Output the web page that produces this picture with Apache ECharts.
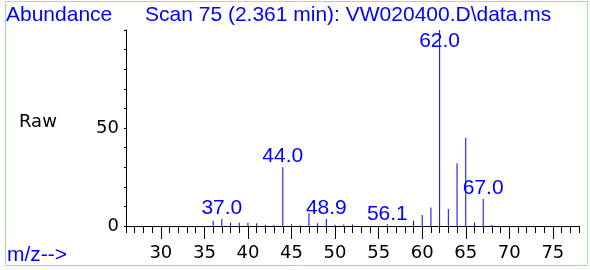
<!DOCTYPE html>
<html>
<head>
<meta charset="utf-8">
<script src="https://cdn.jsdelivr.net/npm/echarts@6/dist/echarts.min.js"></script>
<style>
  html, body { margin: 0; padding: 0; background: #fff; }
  #chart { width: 590px; height: 270px; }
</style>
</head>
<body>
<div id="chart"></div>
<script>
// spectrum peaks (m/z and raw abundance)
const mz = [36, 37, 38, 39, 40, 41, 42, 43, 44, 45, 46, 47, 48, 49, 50, 51, 52, 56, 59, 60, 61, 62, 63, 64, 65, 66, 67, 68];
const abundance = [2.7, 3.6, 1.7, 1.7, 1.7, 1.4, 0.5, 0.5, 30, 0.9, 0.4, 6.5, 1.4, 3.6, 0.6, 0.8, 0.8, 0.9, 2.7, 5.6, 9.5, 100, 8.7, 32, 45, 1.7, 13.8, 0.5];

// peaks that carry a text label
const labelMz = [37, 44, 49, 56, 62, 67];
const labelText = ["37.0", "44.0", "48.9", "56.1", "62.0", "67.0"];

const xTicks = [30, 35, 40, 45, 50, 55, 60, 65, 70, 75];
const yTickLabels = [0, 50];

const title = "Scan 75 (2.361 min): VW020400.D\\data.ms";

const blue = "#0000ff";
const blueFont = "Liberation Sans, Arial, sans-serif";

const peakData = mz.map((m, i) => {
  const item = { value: [m, abundance[i]] };
  const k = labelMz.indexOf(m);
  if (k >= 0) {
    item.label = {
      show: true,
      formatter: labelText[k],
      position: abundance[i] > 90 ? "insideTop" : "top",
      distance: abundance[i] > 90 ? 1 : 0,
      color: blue,
      fontSize: 21,
      fontFamily: blueFont,
    };
  }
  return item;
});

const chart = echarts.init(document.getElementById("chart"));
chart.setOption({
  animation: false,
  grid: { left: 126, right: 11, top: 30, bottom: 44 },
  xAxis: [
    {
      type: "value",
      min: 26,
      max: 78,
      interval: 1,
      splitLine: { show: false },
      axisLine: { show: true, lineStyle: { color: "#000", width: 1 } },
      axisTick: { show: true, length: 7, lineStyle: { color: "#000" } },
      axisLabel: {
        color: "#000",
        fontSize: 18,
        fontFamily: "DejaVu Sans",
        margin: 18,
        formatter: (v) => (xTicks.indexOf(v) >= 0 ? String(v) : ""),
      },
    },
    {
      type: "value",
      min: 26,
      max: 78,
      position: "bottom",
      splitLine: { show: false },
      axisLine: { show: false },
      axisTick: { show: true, length: 13, customValues: xTicks, lineStyle: { color: "#000" } },
      axisLabel: { show: false },
    },
  ],
  yAxis: {
    type: "value",
    min: 0,
    max: 100,
    interval: 10,
    splitLine: { show: false },
    axisLine: { show: true, lineStyle: { color: "#000", width: 1 } },
    axisTick: { show: true, length: 2, lineStyle: { color: "#000" } },
    axisLabel: {
      color: "#000",
      fontSize: 18,
      fontFamily: "DejaVu Sans",
      margin: 7,
      formatter: (v) => (yTickLabels.indexOf(v) >= 0 ? String(v) : ""),
    },
  },
  series: [
    {
      type: "bar",
      xAxisIndex: 0,
      barWidth: 1,
      itemStyle: { color: blue },
      data: peakData,
    },
  ],
  graphic: [
    {
      type: "rect",
      shape: { x: 5.5, y: 1.5, width: 582, height: 264 },
      style: { fill: null, stroke: "#90ee90", lineWidth: 1 },
      silent: true,
    },
    {
      type: "text",
      left: 6,
      top: 5,
      style: { text: "Abundance", fill: blue, font: "21px " + blueFont },
    },
    {
      type: "text",
      left: 145,
      top: 5,
      style: { text: title, fill: blue, font: "21px " + blueFont },
    },
    {
      type: "text",
      left: 19,
      top: 113,
      style: { text: "Raw", fill: "#000", font: "18px DejaVu Sans" },
    },
    {
      type: "text",
      left: 7,
      top: 245,
      style: { text: "m/z-->", fill: blue, font: "21px " + blueFont },
    },
  ],
});
</script>
</body>
</html>
